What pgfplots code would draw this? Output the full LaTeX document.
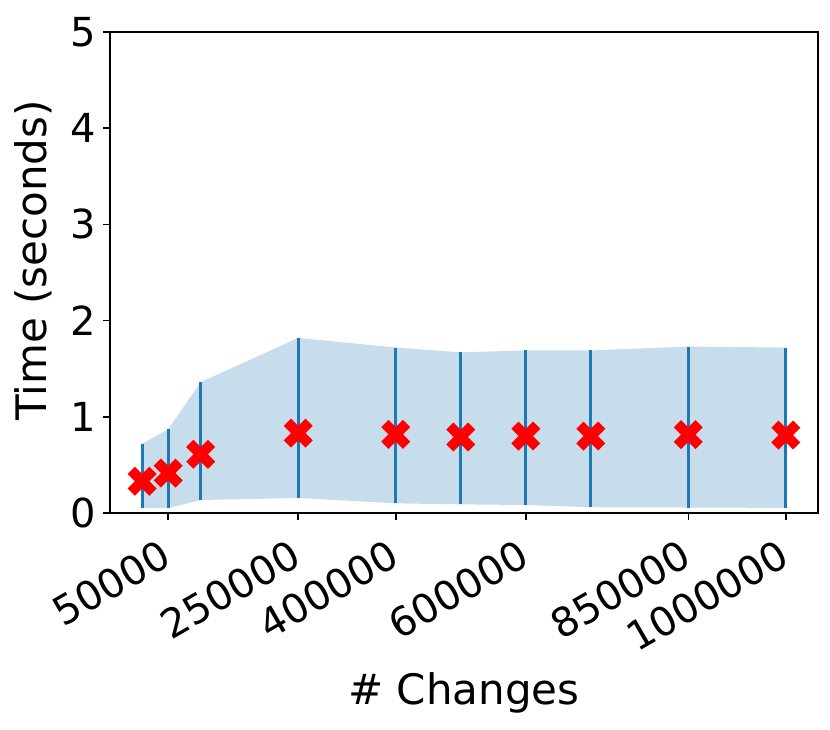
\documentclass[border=0pt]{standalone}
\usepackage{pgfplots}
\pgfplotsset{compat=1.18}
\usepgfplotslibrary{fillbetween}
\usepackage{pgfplotstable}
\usepackage{fontspec}
\setmainfont{DejaVu Sans}

\definecolor{mplblue}{HTML}{1F77B4}
\definecolor{bandfill}{HTML}{C7DDEC}

% x = number of changes, y = mean time, lo/hi = range
\pgfplotstableread{
x       y     lo    hi
10000   0.33  0.05  0.72
50000   0.415 0.05  0.87
100000  0.61  0.135 1.36
250000  0.83  0.156 1.82
400000  0.817 0.10  1.72
500000  0.79  0.09  1.67
600000  0.80  0.083 1.69
700000  0.80  0.06  1.69
850000  0.815 0.057 1.73
1000000 0.81  0.053 1.72
}\timing

\begin{document}
\begin{tikzpicture}
\begin{axis}[
    at={(0,0)}, anchor=south west,
    scale only axis, width=354pt, height=240.5pt,
    xmin=-39500, xmax=1049500, ymin=0, ymax=5,
    scaled x ticks=false,
    xtick={50000,250000,400000,600000,850000,1000000},
    xticklabels={50000,250000,400000,600000,850000,1000000},
    ytick={0,1,2,3,4,5},
    tick pos=left, tick align=outside, major tick length=3.5pt,
    axis line style={line width=0.8pt},
    every tick/.style={black, line width=0.8pt},
    tick label style={font=\fontsize{20}{24}\selectfont},
    xticklabel style={rotate=30, anchor=north east, xshift=-5pt, yshift=-2pt},
    label style={font=\fontsize{21}{25}\selectfont},
    xlabel={\# Changes}, ylabel={Time (seconds)},
    xlabel style={at={(axis description cs:0.5,-0.399)}, anchor=base},
    ylabel style={at={(axis description cs:-0.1088,0.525)}, anchor=center},
    /pgf/number format/assume math mode=true,
]
\addplot[name path=hi, draw=none, forget plot] table[x=x, y=hi] {\timing};
\addplot[name path=lo, draw=none, forget plot] table[x=x, y=lo] {\timing};
\addplot[bandfill, draw=none, forget plot] fill between[of=hi and lo];

\addplot[draw=none, mark=none, forget plot,
    error bars/.cd, y dir=both, y explicit, error mark=none,
    error bar style={draw=mplblue, line width=1.4pt}]
    table[x=x, y=y,
          y error plus expr=\thisrow{hi}-\thisrow{y},
          y error minus expr=\thisrow{y}-\thisrow{lo}] {\timing};

\addplot[only marks, mark=x, mark size=7.7pt,
    mark options={red, line width=5.1pt, line cap=butt}]
    table[x=x, y=y] {\timing};
\end{axis}
\pgfresetboundingbox
\path[use as bounding box] (-55pt,-108pt) rectangle (360pt,256.5pt);
\end{tikzpicture}
\end{document}
